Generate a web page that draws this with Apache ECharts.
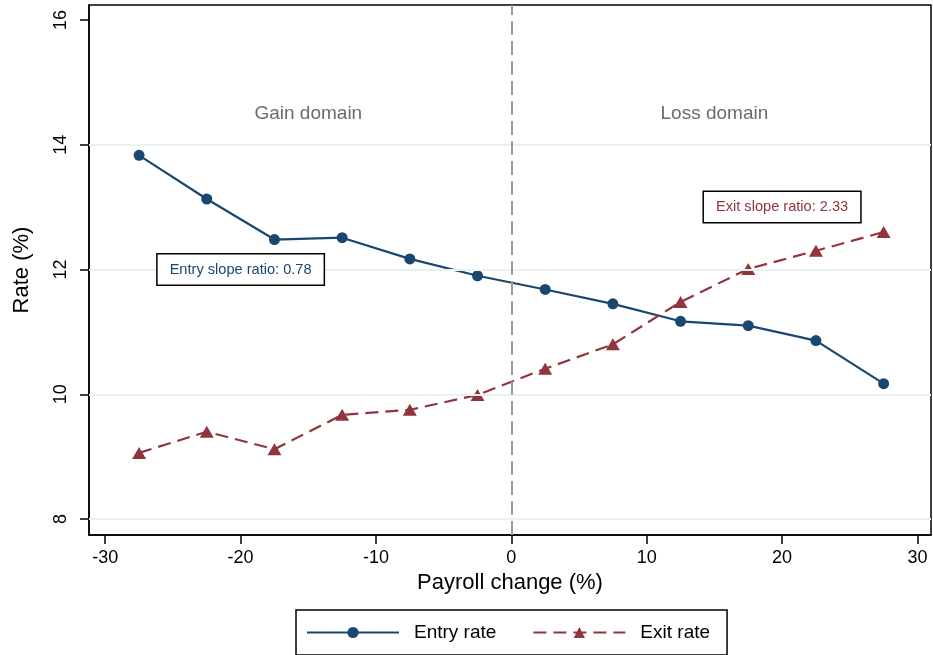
<!DOCTYPE html>
<html>
<head>
<meta charset="utf-8">
<script src="https://cdn.jsdelivr.net/npm/echarts@6/dist/echarts.min.js"></script>
<style>
  html, body { margin: 0; padding: 0; background: #fff; }
  #chart { width: 933px; height: 655px; }
</style>
</head>
<body>
<div id="chart"></div>
<script>
// Payroll change bins (bin midpoints, %)
const payrollChange = [-27.5, -22.5, -17.5, -12.5, -7.5, -2.5, 2.5, 7.5, 12.5, 17.5, 22.5, 27.5];
// Establishment entry and exit rates (%)
const entryRate = [13.83, 13.13, 12.48, 12.51, 12.17, 11.90, 11.68, 11.45, 11.17, 11.10, 10.86, 10.17];
const exitRate  = [9.06, 9.40, 9.12, 9.67, 9.75, 9.99, 10.41, 10.80, 11.48, 12.01, 12.30, 12.60];
// Axis ticks
const xTicks = [-30, -20, -10, 0, 10, 20, 30];
const yTicks = [8, 10, 12, 14, 16];
const yGrid = [8, 10, 12, 14];
// Annotations
const domainLabels = [
  { text: 'Gain domain', x: -15, y: 14.5 },
  { text: 'Loss domain', x: 15, y: 14.5 }
];
const entryNote = { text: 'Entry slope ratio: 0.78', x: -20, y: 12 };
const exitNote  = { text: 'Exit slope ratio: 2.33', x: 20, y: 13 };

const NAVY = '#1a476f';
const MAROON = '#90353b';
const FONT = '"Liberation Sans", Arial, Helvetica, sans-serif';

const toPairs = (xs, ys) => xs.map((x, i) => [x, ys[i]]);

const noteLabel = (color) => ({
  show: true,
  position: 'inside',
  color: color,
  fontFamily: FONT,
  fontSize: 14.6,
  backgroundColor: '#fff',
  borderColor: '#000',
  borderWidth: 1.5,
  padding: [8, 12, 7, 12]
});

const chart = echarts.init(document.getElementById('chart'), null, { renderer: 'canvas' });

chart.setOption({
  backgroundColor: '#fff',
  animation: false,
  textStyle: { fontFamily: FONT },
  grid: {
    left: 89, right: 2, top: 5, bottom: 120,
    show: true, borderColor: '#000', borderWidth: 1.5, backgroundColor: '#fff'
  },
  xAxis: {
    type: 'value',
    min: -31.2, max: 31.0,
    name: 'Payroll change (%)',
    nameLocation: 'middle',
    nameGap: 36,
    nameTextStyle: { fontSize: 22, color: '#000', fontFamily: FONT },
    axisLine: { show: true, onZero: false, lineStyle: { color: '#000', width: 1.5 } },
    axisTick: { show: true, length: 9, lineStyle: { color: '#000', width: 1.5 }, customValues: xTicks },
    axisLabel: { fontSize: 18, color: '#000', margin: 14, customValues: xTicks, fontFamily: FONT },
    splitLine: { show: false }
  },
  yAxis: {
    type: 'value',
    min: 7.744, max: 16.24,
    name: 'Rate (%)',
    nameLocation: 'middle',
    nameGap: 56,
    nameRotate: 90,
    nameTextStyle: { fontSize: 22, color: '#000', fontFamily: FONT },
    axisLine: { show: true, onZero: false, lineStyle: { color: '#000', width: 1.5 } },
    axisTick: { show: true, length: 9, lineStyle: { color: '#000', width: 1.5 }, customValues: yTicks },
    axisLabel: { fontSize: 18, color: '#000', margin: 19, rotate: 90, customValues: yTicks, fontFamily: FONT },
    splitLine: { show: false }
  },
  legend: {
    data: ['Entry rate', 'Exit rate'],
    left: 296, top: 610,
    orient: 'horizontal',
    itemWidth: 92, itemHeight: 14,
    itemGap: 36,
    padding: [13, 17, 13, 10],
    borderColor: '#000', borderWidth: 1.5,
    backgroundColor: '#fff',
    textStyle: { fontSize: 19, color: '#000', fontFamily: FONT, padding: [0, 0, 0, 10] }
  },
  series: [
    {
      // reference lines and text annotations
      name: 'annotations',
      type: 'line',
      data: [],
      z: 1,
      silent: true,
      markLine: {
        silent: true,
        symbol: 'none',
        label: { show: false },
        data: yGrid.map(v => ({ yAxis: v, lineStyle: { color: '#e9f1f3', width: 2, type: 'solid' } }))
          .concat([{ xAxis: 0, lineStyle: { color: '#9a9a9a', width: 2, type: [14, 6] } }])
      },
      markPoint: {
        silent: true,
        symbol: 'circle', symbolSize: 0,
        data: domainLabels.map(d => ({
          coord: [d.x, d.y],
          label: { show: true, position: 'inside', formatter: d.text, color: '#6b6b6b', fontSize: 19, fontFamily: FONT }
        }))
      }
    },
    {
      name: 'Entry rate',
      type: 'line',
      z: 3,
      data: toPairs(payrollChange, entryRate),
      symbol: 'circle',
      symbolSize: 11,
      itemStyle: { color: NAVY },
      lineStyle: { color: NAVY, width: 2.2 },
      markPoint: {
        silent: true,
        symbol: 'circle', symbolSize: 0,
        data: [{ coord: [entryNote.x, entryNote.y], label: Object.assign(noteLabel(NAVY), { formatter: entryNote.text }) }]
      }
    },
    {
      name: 'Exit rate',
      type: 'line',
      z: 3,
      data: toPairs(payrollChange, exitRate),
      symbol: 'triangle',
      symbolSize: [14, 12],
      itemStyle: { color: MAROON },
      lineStyle: { color: MAROON, width: 2.2, type: [13, 7] },
      markPoint: {
        silent: true,
        symbol: 'circle', symbolSize: 0,
        data: [{ coord: [exitNote.x, exitNote.y], label: Object.assign(noteLabel(MAROON), { formatter: exitNote.text }) }]
      }
    }
  ]
});
</script>
</body>
</html>
